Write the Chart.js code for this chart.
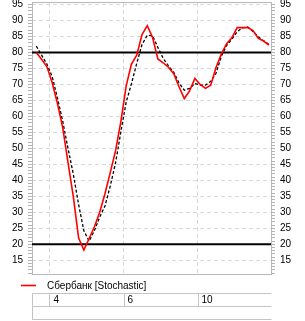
<!DOCTYPE html>
<html><head><meta charset="utf-8">
<script src="https://cdn.jsdelivr.net/npm/chart.js@4/dist/chart.umd.min.js"></script>
<style>html,body{margin:0;padding:0;background:#fff;overflow:hidden}</style>
</head><body>
<canvas id="c" width="305" height="321" style="display:block;width:305px;height:321px"></canvas>
<script>
// ---- data ----
const seriesName = 'Сбербанк [Stochastic]';
const pointDays = [3,3,3, 4,4,4,4,4,4,4, 5,5,5,5,5,5,5, 6,6,6,6,6,6,6, 7,7,7,7,7,7,7, 10,10,10,10,10,10,10, 11,11,11,11,11,11,11];
const tickDays = [4, 6, 10];
const stochK = [80, 77.9, 75.6, 70.6, 64.1, 56.5, 45.6, 35, 22, 18.2, 21.8, 25.5, 30, 35.9, 42.5, 49.3, 58.4, 69.5, 76.4, 79.2, 85.6, 88.4, 84.7, 78, 76.8, 75.4, 73.4, 69.3, 65.6, 68, 71.9, 70, 68.8, 69.8, 75.3, 79.5, 82.8, 84.6, 87.8, 87.8, 87.8, 86.9, 84.4, 83.6, 82.3];
const stochD = [82, 79.2, 76.4, 72.5, 65.8, 58.5, 50, 42, 32.5, 24.2, 21, 24.3, 28.5, 32, 38.3, 45.5, 55.2, 64.5, 70.2, 76.6, 82.5, 85.4, 85.2, 81.6, 78.2, 75.8, 73.8, 70.5, 68.2, 68.8, 70.3, 69.8, 69.8, 71, 73.5, 78.8, 82.2, 84.2, 86.5, 87.7, 88, 86.6, 84.9, 83.7, 82.5];
const levels = [80, 20];
const yTickLabels = [15, 20, 25, 30, 35, 40, 45, 50, 55, 60, 65, 70, 75, 80, 85, 90, 95];
const yMin = 10.7, yMax = 95.5;
const xMin = -0.81, xMax = 44.4;

// ---- styles ----
const FONT = {family: "'Liberation Sans', Arial, sans-serif", size: 10};
const GRID = '#d8d8d8';
const FRAME = '#b8b8b8';
const TABLE = '#c4c4c4';
const TICK = '#b4b4b4';

Chart.defaults.font = FONT;
Chart.defaults.color = '#000';

const xy = arr => arr.map((v, i) => ({x: i, y: v}));

const datasets = [
  {label: seriesName, data: xy(stochK), borderColor: '#ff0000', borderWidth: 1.6, pointRadius: 0, tension: 0, order: 0},
  {label: '%D', data: xy(stochD), borderColor: '#000000', borderWidth: 1.3, borderDash: [3, 2], pointRadius: 0, tension: 0, order: 1},
  ...levels.map(l => ({label: 'L' + l, data: [{x: xMin, y: l}, {x: xMax, y: l}], borderColor: '#000', borderWidth: 2, pointRadius: 0, order: 2}))
];

const isMajor = v => yTickLabels.includes(v);
function intTicks(scale) {
  const t = [];
  for (let v = Math.ceil(yMin); v <= Math.floor(yMax); v++) t.push({value: v});
  scale.ticks = t;
}
function yAxis(position, width, onArea) {
  return {
    type: 'linear', position, min: yMin, max: yMax,
    afterBuildTicks: intTicks,
    afterFit(s) { s.width = width; s.paddingTop = 0; s.paddingBottom = 0; },
    ticks: {autoSkip: false, padding: 5, font: FONT, color: '#000',
      callback: v => isMajor(v) ? String(v) : ''},
    grid: {drawOnChartArea: onArea, tickLength: 4, tickColor: TICK, tickWidth: 1,
      color: c => (c.tick && isMajor(c.tick.value)) ? GRID : 'rgba(0,0,0,0)', borderDash: [4, 3]},
    border: {display: false, dash: [4, 3]}
  };
}

const framePlugin = {
  id: 'frame',
  beforeDatasetsDraw(chart) {
    const {ctx, chartArea: a} = chart;
    ctx.save();
    ctx.strokeStyle = FRAME; ctx.lineWidth = 1;
    ctx.strokeRect(Math.round(a.left) + 0.5, Math.round(a.top) - 0.5, Math.round(a.right - a.left), Math.round(a.bottom - a.top) + 1);
    ctx.restore();
  },
  afterDraw(chart) {
    const {ctx, chartArea: a} = chart;
    const xs = chart.scales.x;
    const L = Math.round(a.left) + 0.5, R = Math.round(a.right) + 0.5;
    ctx.save();
    // table
    ctx.strokeStyle = TABLE; ctx.lineWidth = 1;
    ctx.beginPath();
    [293.5, 306.5, 319.5].forEach(y => { ctx.moveTo(L, y); ctx.lineTo(R, y); });
    ctx.moveTo(L, 293.5); ctx.lineTo(L, 320);
    xs.ticks.forEach(t => { const px = Math.round(xs.getPixelForValue(t.value)) + 0.5; ctx.moveTo(px, 293.5); ctx.lineTo(px, 306.5); });
    ctx.stroke();
    // legend
    ctx.strokeStyle = '#ff0000'; ctx.lineWidth = 1.6;
    ctx.beginPath(); ctx.moveTo(21, 285.5); ctx.lineTo(36, 285.5); ctx.stroke();
    ctx.fillStyle = '#000';
    ctx.font = FONT.size + 'px ' + FONT.family;
    ctx.textBaseline = 'middle'; ctx.textAlign = 'left';
    ctx.fillText(seriesName, 47, 286);
    ctx.restore();
  }
};

new Chart(document.getElementById('c'), {
  type: 'line',
  data: {datasets},
  plugins: [framePlugin],
  options: {
    responsive: false, devicePixelRatio: 1, animation: false,
    layout: {padding: {top: 3, left: 0, right: 0, bottom: 0}},
    plugins: {legend: {display: false}, tooltip: {enabled: false}},
    scales: {
      x: {
        type: 'linear', position: 'bottom', min: xMin, max: xMax,
        afterBuildTicks(s) { s.ticks = tickDays.map(d => ({value: pointDays.indexOf(d) - 0.5})); },
        afterFit(s) { s.height = 47; s.paddingLeft = 0; s.paddingRight = 0; },
        ticks: {autoSkip: false, maxRotation: 0, align: 'start', labelOffset: 4, padding: 20, font: FONT, color: '#000',
          callback: (v, i) => String(tickDays[i])},
        grid: {drawTicks: false, color: GRID, borderDash: [4, 3]},
        border: {display: false, dash: [4, 3]}
      },
      y: yAxis('left', 32, true),
      y2: yAxis('right', 34, false)
    }
  }
});
</script>
</body></html>
